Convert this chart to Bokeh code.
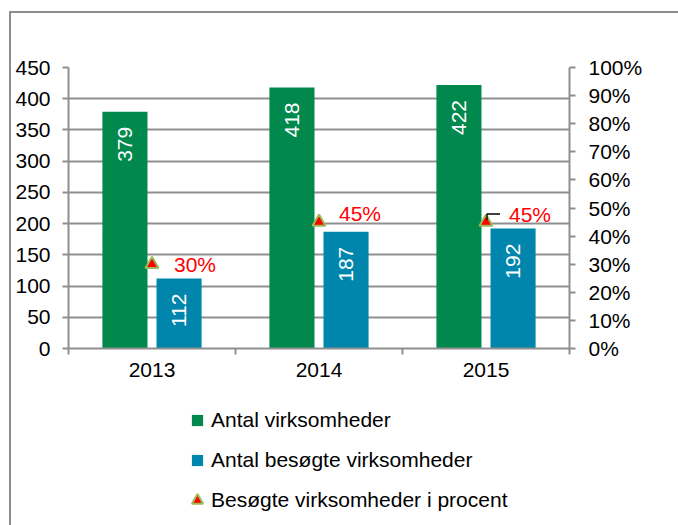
from bokeh.plotting import figure
from bokeh.layouts import column
from bokeh.models import (Range1d, LinearAxis, FixedTicker, SingleIntervalTicker,
                          NumeralTickFormatter, Legend, LegendItem)
from bokeh.core.properties import value
from bokeh.embed import file_html
from bokeh.resources import INLINE
import numpy as np

# ---- data ----
years = ["2013", "2014", "2015"]
antal = [379, 418, 422]
besogte = [112, 187, 192]
procent = [0.30, 0.45, 0.45]
pct_labels = ["30%", "45%", "45%"]
series_names = ["Antal virksomheder", "Antal besøgte virksomheder",
                "Besøgte virksomheder i procent"]

# ---- style ----
GREEN = "#00884D"
BLUE = "#0086AD"
GRID = "#8f8f8f"
BORDER = "2px solid #8c8c8c"
FONT = "Liberation Sans"
FS = "21px"
BAR_W = 0.27
DODGE = 0.162
lab_dx = [22, 20, 23]
lab_dy = [0, 9, 8]

xc = [i + 0.5 for i in range(len(years))]
x_green = [x - DODGE for x in xc]
x_blue = [x + DODGE for x in xc]

p = figure(width=669, height=375, output_backend="svg", toolbar_location=None,
           x_range=Range1d(0, len(years)), y_range=Range1d(0, 450),
           min_border_left=57, min_border_right=111, min_border_top=54,
           min_border_bottom=40)
p.outline_line_color = None
p.background_fill_color = "white"
p.border_fill_color = "white"
p.styles = {"border-left": BORDER, "border-top": BORDER,
            "margin-top": "11px", "margin-left": "9px"}
p.extra_y_ranges = {"pct": Range1d(0, 1)}

# grid
p.xgrid.visible = False
p.ygrid.grid_line_color = GRID
p.ygrid.grid_line_width = 2
p.ygrid.ticker = SingleIntervalTicker(interval=50, num_minor_ticks=0)

# x axis (ticks at category boundaries, labels at centres)
xa = p.xaxis[0]
xa.ticker = FixedTicker(ticks=xc, minor_ticks=list(range(len(years) + 1)))
xa.major_label_overrides = {x: y for x, y in zip(xc, years)}
xa.major_tick_out = 0
xa.major_tick_in = 0
xa.minor_tick_out = 6
xa.minor_tick_in = 0
xa.minor_tick_line_color = GRID
xa.minor_tick_line_width = 2
xa.axis_line_color = GRID
xa.axis_line_width = 2
xa.major_label_standoff = 8

# left axis
ya = p.yaxis[0]
ya.ticker = SingleIntervalTicker(interval=50, num_minor_ticks=0)
ya.major_tick_out = 6
ya.major_tick_in = 0
ya.minor_tick_out = 0
ya.minor_tick_in = 0
ya.major_tick_line_color = GRID
ya.major_tick_line_width = 2
ya.axis_line_color = GRID
ya.axis_line_width = 2
ya.major_label_standoff = 12

# right axis
ra = LinearAxis(y_range_name="pct",
                ticker=SingleIntervalTicker(interval=0.1, num_minor_ticks=0),
                formatter=NumeralTickFormatter(format="0%"))
ra.major_tick_out = 6
ra.major_tick_in = 0
ra.minor_tick_out = 0
ra.minor_tick_in = 0
ra.major_tick_line_color = GRID
ra.major_tick_line_width = 2
ra.axis_line_color = GRID
ra.axis_line_width = 2
ra.major_label_standoff = 13
p.add_layout(ra, "right")

for ax in (xa, ya, ra):
    ax.major_label_text_font = FONT
    ax.major_label_text_font_size = FS
    ax.major_label_text_color = "black"

# bars
p.vbar(x=x_green, top=antal, width=BAR_W, fill_color=GREEN, line_color=None)
p.vbar(x=x_blue, top=besogte, width=BAR_W, fill_color=BLUE, line_color=None)

# bar value labels (white, rotated)
for xs, vals in ((x_green, antal), (x_blue, besogte)):
    p.text(x=xs, y=vals, text=[str(v) for v in vals], angle=np.pi / 2,
           text_align="right", text_baseline="middle", y_offset=15,
           text_color="white", text_font=value(FONT), text_font_size=FS)

# percent markers
tri = p.scatter(x=xc, y=procent, y_range_name="pct", marker="triangle", size=13,
                fill_color="#FF0000", line_color="#9BBB59", line_width=2)

# percent labels
for i in range(len(years)):
    p.text(x=[xc[i]], y=[procent[i]], text=[pct_labels[i]], y_range_name="pct",
           x_offset=lab_dx[i], y_offset=-lab_dy[i], text_align="left",
           text_baseline="middle", text_color="#FF0000",
           text_font=value(FONT), text_font_size=FS)

# leader line for last label
px_x = 499 / len(years)
px_y = 279
i = 2
p.line(x=[xc[i] + 1 / px_x, xc[i] + 1 / px_x, xc[i] + 14 / px_x],
       y=[procent[i] + 2 / px_y, procent[i] + 8 / px_y, procent[i] + 8 / px_y],
       y_range_name="pct", line_color="black", line_width=1.3)

# ---- legend in its own strip below (frame aligned with main plot) ----
lf = figure(width=669, height=139, output_backend="svg", toolbar_location=None,
            x_range=Range1d(0, 1), y_range=Range1d(-2, -1),
            x_axis_location=None, y_axis_location=None, min_border=0)
lf.outline_line_color = None
lf.grid.visible = False
lf.styles = {"border-left": BORDER, "margin-left": "9px"}

# legend-only renderers: same data, outside this strip's visible range
g_leg = lf.scatter(x=xc, y=antal, marker="square", fill_color=GREEN, line_color=None)
b_leg = lf.scatter(x=xc, y=besogte, marker="square", fill_color=BLUE, line_color=None)
t_leg = lf.scatter(x=xc, y=procent, marker="triangle", fill_color="#FF0000",
                   line_color="#9BBB59", line_width=2)
legend = Legend(items=[LegendItem(label=series_names[0], renderers=[g_leg]),
                       LegendItem(label=series_names[1], renderers=[b_leg]),
                       LegendItem(label=series_names[2], renderers=[t_leg])],
                location=(115, 11), orientation="vertical",
                glyph_width=28, glyph_height=28, label_standoff=0, spacing=12,
                padding=0, margin=0, border_line_color=None,
                background_fill_alpha=0, label_text_font=FONT,
                label_text_font_size=FS, label_text_color="black")
lf.add_layout(legend)

layout = column(p, lf, spacing=0)
open("out.html", "w").write(file_html(layout, INLINE))
